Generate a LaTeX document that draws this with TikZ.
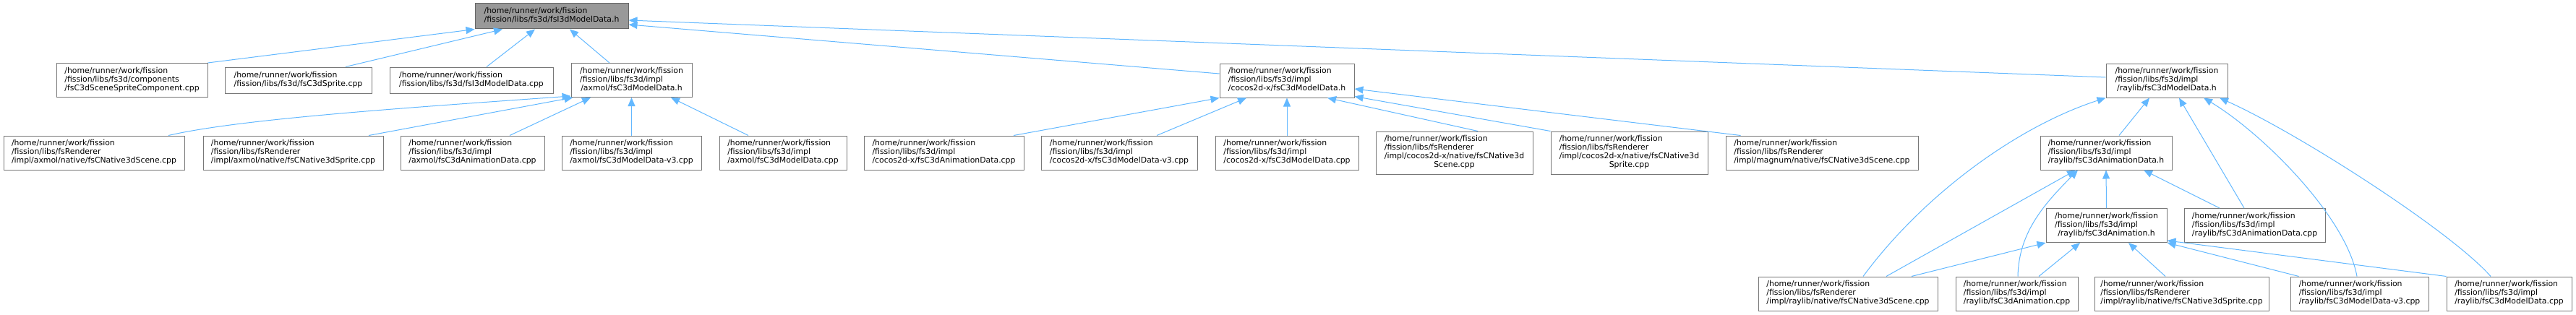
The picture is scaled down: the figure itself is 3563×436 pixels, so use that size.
\documentclass[tikz,border=0pt]{standalone}
\usepackage{fontspec}
\setmainfont{DejaVu Sans}
\usetikzlibrary{arrows.meta}
\definecolor{edgeblue}{HTML}{63B8FF}
\definecolor{boxgray}{HTML}{777777}
\definecolor{rootline}{HTML}{666666}
\definecolor{rootfill}{HTML}{999999}
\newcommand{\fpath}[1]{\begin{tabular}{@{}l@{}}/home/runner/work/fission\\#1\end{tabular}}
\newcommand{\lastc}[1]{\multicolumn{1}{@{}c@{}}{#1}}
\begin{document}
\begin{tikzpicture}[x=1pt,y=-1pt,
  file/.style={draw=boxgray,line width=1pt,fill=white,inner sep=0pt,minimum height=47pt,
    font=\fontsize{10.87pt}{12pt}\selectfont},
  edge/.style={draw=edgeblue,line width=1pt,-{Triangle[length=12pt,width=10pt]}}]
\useasboundingbox (0,0) rectangle (3563,436);
% top header
\node[file,draw=rootline,fill=rootfill,minimum width=212pt,minimum height=35pt] (root) at (763,22.5)
  {\fpath{/fission/libs/fs3d/fsI3dModelData.h}};
% first level
\node[file,minimum width=209pt] (sprcomp) at (182.5,111) {\fpath{/fission/libs/fs3d/components\\/fsC3dSceneSpriteComponent.cpp}};
\node[file,minimum width=203pt,minimum height=36pt] (sprite) at (412.5,111) {\fpath{/fission/libs/fs3d/fsC3dSprite.cpp}};
\node[file,minimum width=226pt,minimum height=36pt] (mdcpp) at (652,111) {\fpath{/fission/libs/fs3d/fsI3dModelData.cpp}};
\node[file,minimum width=167pt] (axmolh) at (873.5,111) {\fpath{/fission/libs/fs3d/impl\\\lastc{/axmol/fsC3dModelData.h}}};
\node[file,minimum width=186pt] (cocosh) at (1780,111.5) {\fpath{/fission/libs/fs3d/impl\\/cocos2d-x/fsC3dModelData.h}};
\node[file,minimum width=168pt] (raylibh) at (2997,111.5) {\fpath{/fission/libs/fs3d/impl\\\lastc{/raylib/fsC3dModelData.h}}};
% second level
\node[file,minimum width=250pt] (axnscene) at (130,211.5) {\fpath{/fission/libs/fsRenderer\\/impl/axmol/native/fsCNative3dScene.cpp}};
\node[file,minimum width=249pt] (axnsprite) at (405.5,211.5) {\fpath{/fission/libs/fsRenderer\\/impl/axmol/native/fsCNative3dSprite.cpp}};
\node[file,minimum width=199pt] (axanim) at (653.5,211.5) {\fpath{/fission/libs/fs3d/impl\\/axmol/fsC3dAnimationData.cpp}};
\node[file,minimum width=193pt] (axmdv3) at (873.5,211.5) {\fpath{/fission/libs/fs3d/impl\\/axmol/fsC3dModelData-v3.cpp}};
\node[file,minimum width=176pt] (axmd) at (1083,211.5) {\fpath{/fission/libs/fs3d/impl\\/axmol/fsC3dModelData.cpp}};
\node[file,minimum width=221pt] (ccanim) at (1305.5,211.5) {\fpath{/fission/libs/fs3d/impl\\/cocos2d-x/fsC3dAnimationData.cpp}};
\node[file,minimum width=216pt] (ccmdv3) at (1548,211.5) {\fpath{/fission/libs/fs3d/impl\\/cocos2d-x/fsC3dModelData-v3.cpp}};
\node[file,minimum width=198pt] (ccmd) at (1780,211.5) {\fpath{/fission/libs/fs3d/impl\\/cocos2d-x/fsC3dModelData.cpp}};
\node[file,minimum width=217pt,minimum height=59pt] (ccnscene) at (2011.5,211.5) {\fpath{/fission/libs/fsRenderer\\/impl/cocos2d-x/native/fsCNative3d\\\lastc{Scene.cpp}}};
\node[file,minimum width=217pt,minimum height=59pt] (ccnsprite) at (2253.5,211.5) {\fpath{/fission/libs/fsRenderer\\/impl/cocos2d-x/native/fsCNative3d\\\lastc{Sprite.cpp}}};
\node[file,minimum width=266pt] (mgnscene) at (2520,211.5) {\fpath{/fission/libs/fsRenderer\\/impl/magnum/native/fsCNative3dScene.cpp}};
\node[file,minimum width=182pt] (rlanimdh) at (2913,211.5) {\fpath{/fission/libs/fs3d/impl\\/raylib/fsC3dAnimationData.h}};
% third level
\node[file,minimum width=167pt] (rlanimh) at (2913.5,312) {\fpath{/fission/libs/fs3d/impl\\\lastc{/raylib/fsC3dAnimation.h}}};
\node[file,minimum width=195pt] (rlanimdcpp) at (3118.5,312) {\fpath{/fission/libs/fs3d/impl\\/raylib/fsC3dAnimationData.cpp}};
% bottom
\node[file,minimum width=248pt] (rlnscene) at (2556,406.5) {\fpath{/fission/libs/fsRenderer\\/impl/raylib/native/fsCNative3dScene.cpp}};
\node[file,minimum width=169pt] (rlanimcpp) at (2789.5,406.5) {\fpath{/fission/libs/fs3d/impl\\/raylib/fsC3dAnimation.cpp}};
\node[file,minimum width=241pt] (rlnsprite) at (3017.5,406.5) {\fpath{/fission/libs/fsRenderer\\/impl/raylib/native/fsCNative3dSprite.cpp}};
\node[file,minimum width=191pt] (rlmdv3) at (3263.5,406.5) {\fpath{/fission/libs/fs3d/impl\\/raylib/fsC3dModelData-v3.cpp}};
\node[file,minimum width=173pt] (rlmd) at (3470.5,406.5) {\fpath{/fission/libs/fs3d/impl\\/raylib/fsC3dModelData.cpp}};
% includes of fsI3dModelData.h
\draw[edge] (sprcomp.north east) -- (root.south west);
\draw[edge] ([xshift=65.5pt]sprite.north) -- ([xshift=-68pt]root.south);
\draw[edge] ([xshift=21pt]mdcpp.north) -- ([xshift=-23pt]root.south);
\draw[edge] ([xshift=-30.5pt]axmolh.north) -- ([xshift=25pt]root.south);
\draw[edge] ([yshift=9.5pt]cocosh.west) -- ([yshift=-11.5pt]root.east);
\draw[edge] ([yshift=4.5pt]raylibh.west) -- ([yshift=-5.5pt]root.east);
% axmol
\draw[edge] ([xshift=103pt]axnscene.north) .. controls (330,165) and (550,150) .. ([yshift=2pt]axmolh.south west);
\draw[edge] ([xshift=104.5pt]axnsprite.north) -- ([xshift=3pt]axmolh.south west);
\draw[edge] ([xshift=51.5pt]axanim.north) -- ([xshift=-56.5pt]axmolh.south);
\draw[edge] (axmdv3.north) -- (axmolh.south);
\draw[edge] ([xshift=-48pt]axmd.north) -- ([xshift=54.5pt]axmolh.south);
% cocos2d-x
\draw[edge] ([xshift=96.5pt]ccanim.north) -- (cocosh.south west);
\draw[edge] ([xshift=52pt]ccmdv3.north) -- ([xshift=-56pt]cocosh.south);
\draw[edge] (ccmd.north) -- (cocosh.south);
\draw[edge] ([xshift=32.5pt]ccnscene.north) -- ([xshift=56pt]cocosh.south);
\draw[edge] (ccnsprite.north west) -- ([yshift=2pt]cocosh.south east);
\draw[edge] ([xshift=21pt]mgnscene.north west) -- ([yshift=-11.5pt]cocosh.east);
% raylib
\draw[edge] ([xshift=18pt]rlanimdh.north) -- ([xshift=-24pt]raylibh.south);
\draw[edge] ([xshift=21pt]rlnscene.north) .. controls (2660,270) and (2790,175) .. (raylibh.south west);
\draw[edge] ([xshift=-14.5pt]rlanimdcpp.north) -- ([xshift=17pt]raylibh.south);
\draw[edge] ([xshift=-3.5pt]rlmdv3.north) .. controls (3245,300) and (3130,185) .. ([xshift=51pt]raylibh.south);
\draw[edge] ([xshift=-25.5pt]rlmd.north) .. controls (3390,320) and (3180,185) .. ([xshift=73pt]raylibh.south);
% fsC3dAnimationData.h
\draw[edge] (rlanimh.north) -- (rlanimdh.south);
\draw[edge] ([xshift=-48.5pt]rlanimdcpp.north) -- ([xshift=52pt]rlanimdh.south);
\draw[edge] ([xshift=53pt]rlnscene.north) -- ([xshift=-42pt]rlanimdh.south);
\draw[edge] ([xshift=1.5pt]rlanimcpp.north) .. controls (2792,320) and (2830,280) .. ([xshift=-39pt]rlanimdh.south);
% fsC3dAnimation.h
\draw[edge] ([xshift=88pt]rlnscene.north) -- (rlanimh.south west);
\draw[edge] ([xshift=30.5pt]rlanimcpp.north) -- ([xshift=-36.5pt]rlanimh.south);
\draw[edge] ([xshift=-22.5pt]rlnsprite.north) -- ([xshift=30.5pt]rlanimh.south);
\draw[edge] ([xshift=12pt]rlmdv3.north west) -- (rlanimh.south east);
\draw[edge] (rlmd.north west) -- ([yshift=3pt]rlanimh.south east);
\end{tikzpicture}
\end{document}
